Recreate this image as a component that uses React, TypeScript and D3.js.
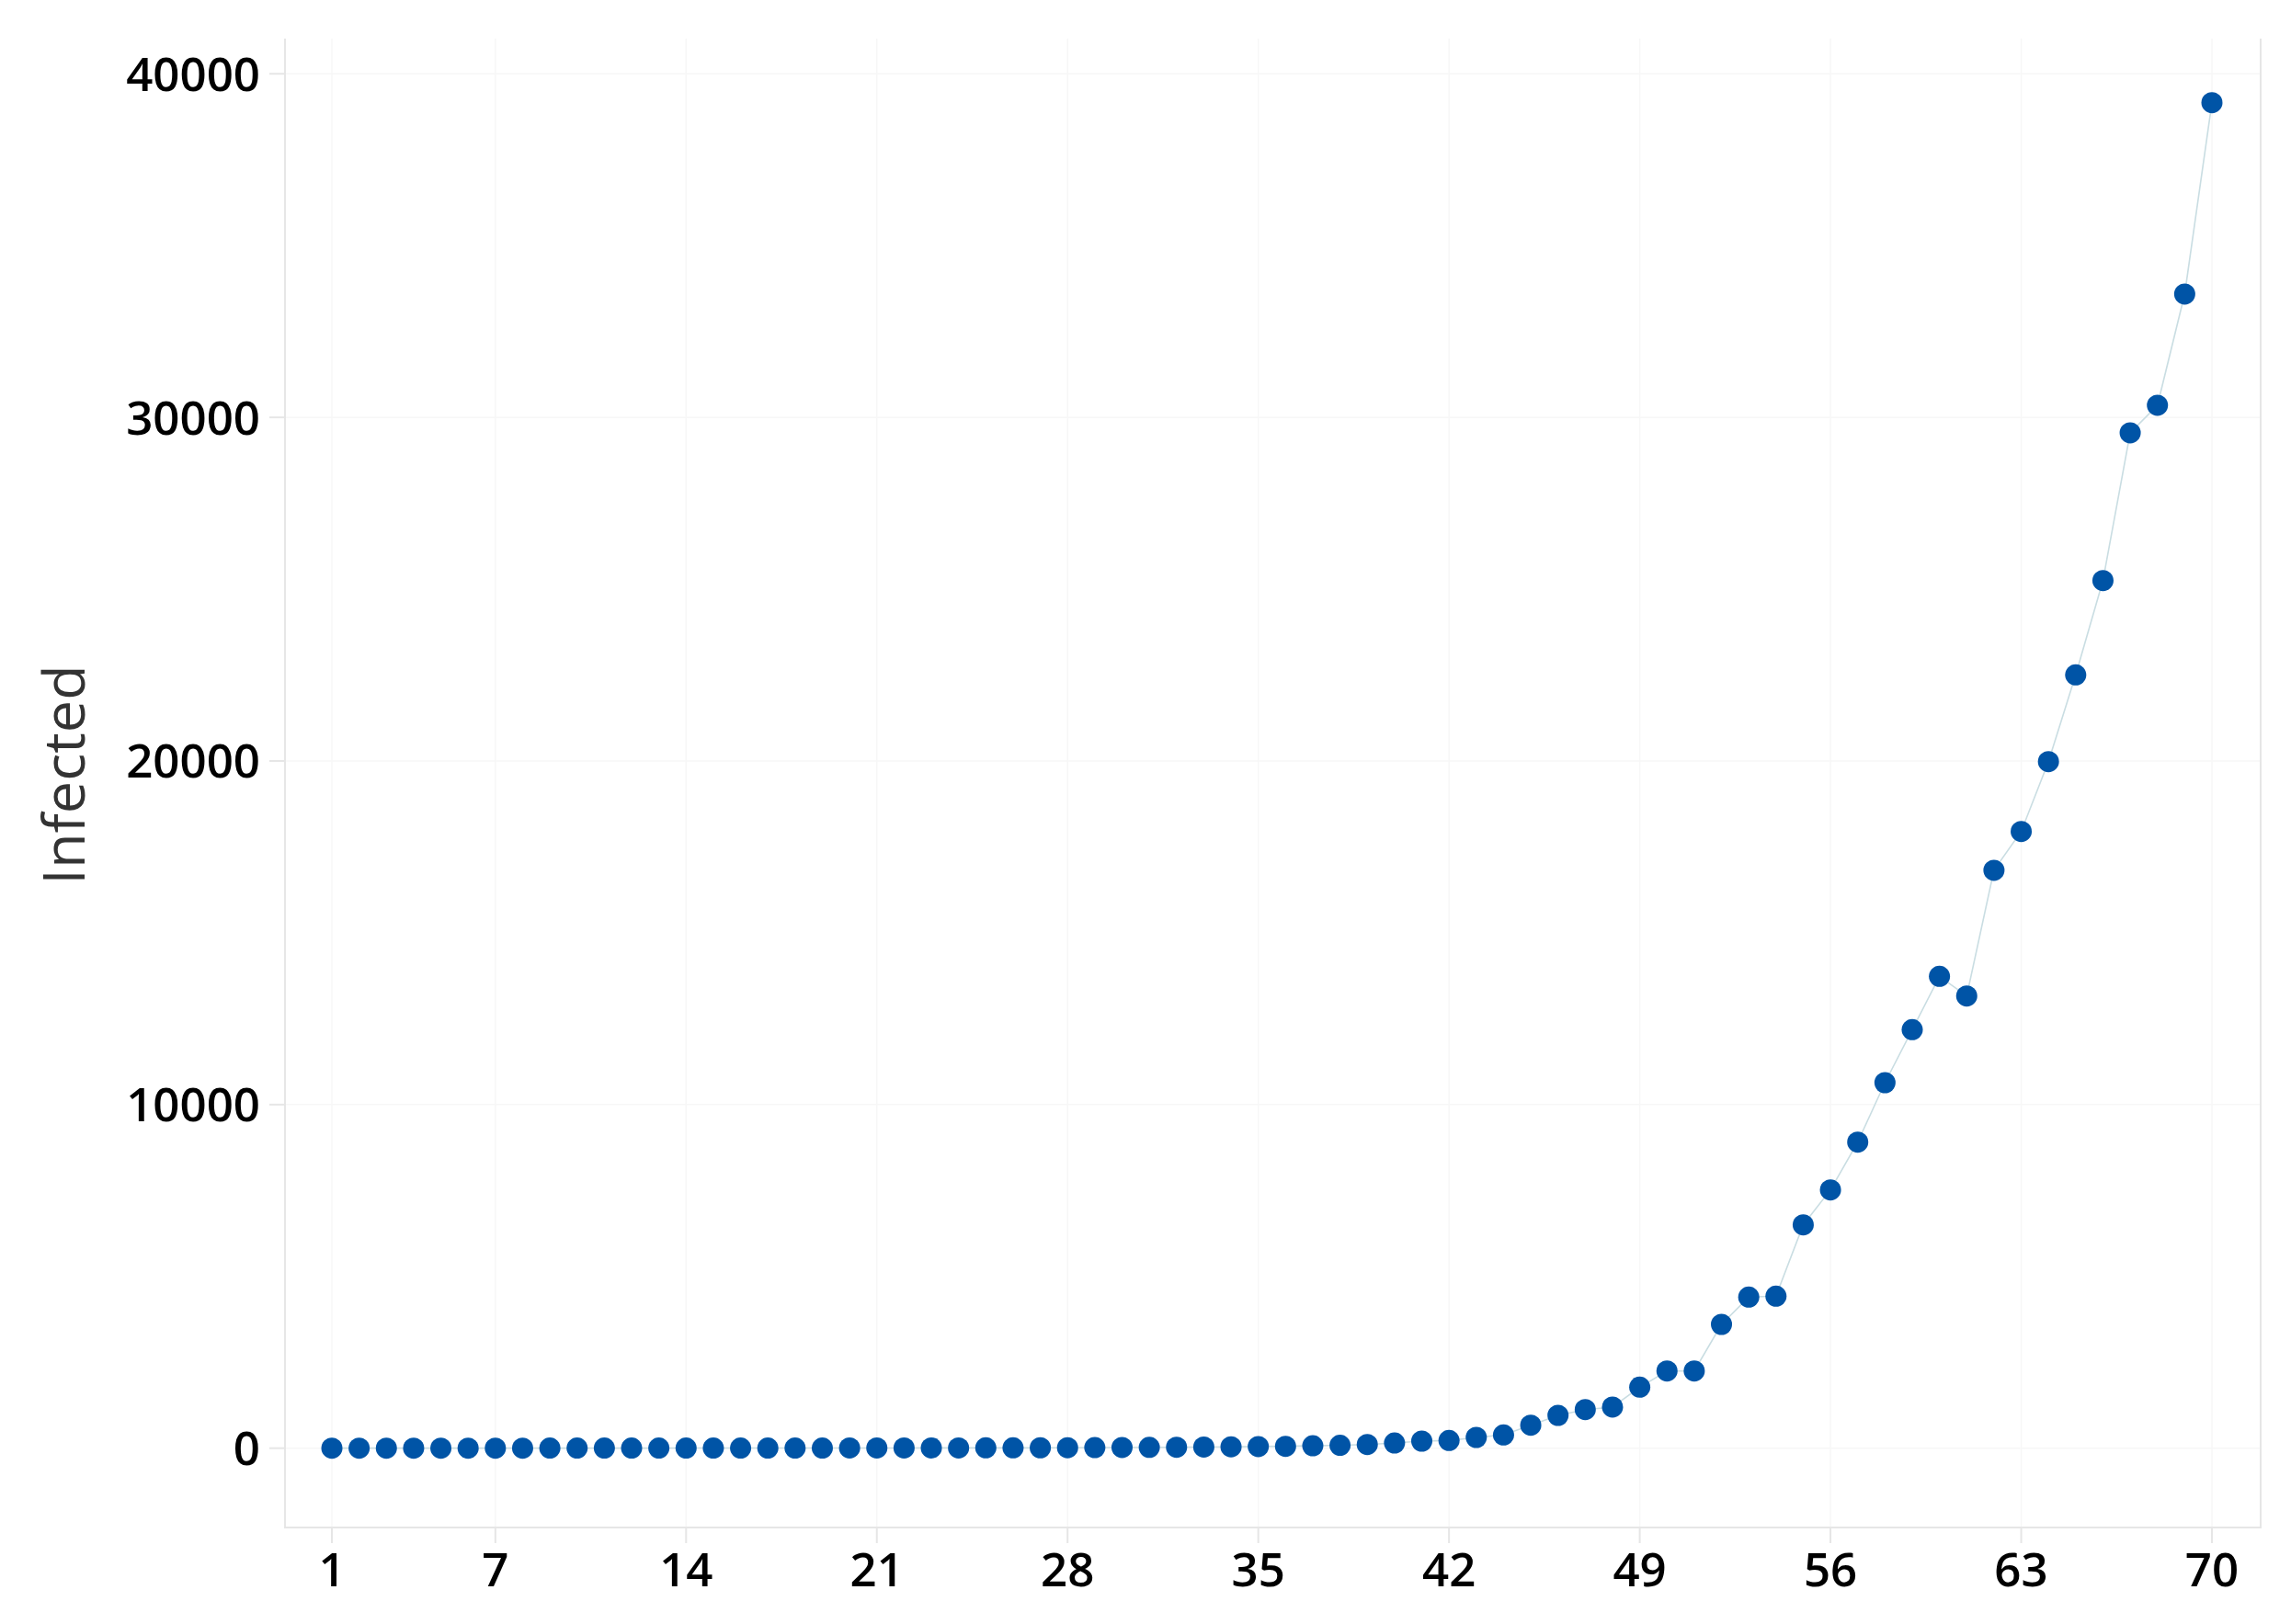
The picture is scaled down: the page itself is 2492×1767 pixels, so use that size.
import React from "react";
import * as d3 from "d3";

const days: number[] = Array.from({ length: 70 }, (_, i) => i + 1);
const infected: number[] = [
  1, 1, 1, 1, 2, 2, 2, 2, 3, 3,
  3, 3, 3, 4, 4, 4, 5, 5, 5, 6,
  6, 7, 8, 8, 9, 10, 12, 14, 17, 20,
  24, 28, 33, 40, 48, 55, 70, 85, 107, 152,
  206, 224, 313, 385, 670, 955, 1123, 1196, 1776, 2247,
  2247, 3603, 4397, 4424, 6500, 7517, 8907, 10638, 12181, 13732,
  13161, 16820, 17949, 19982, 22506, 25251, 29550, 30352, 33589, 39160,
];
const xTicks: number[] = [1, 7, 14, 21, 28, 35, 42, 49, 56, 63, 70];
const yTicks: number[] = [0, 10000, 20000, 30000, 40000];
const yTitle = "Infected";

const W = 2492;
const H = 1767;
const frame = { left: 310, right: 2459, top: 42, bottom: 1662 };
const FONT = "'Open Sans', 'Noto Sans', sans-serif";

export default function App() {
  const x = d3.scaleLinear().domain([1, 70]).range([361, 2406]);
  const y = d3.scaleLinear().domain([0, 40000]).range([1575.7, 80.3]);
  const line = d3
    .line<number>()
    .x((_, i) => x(days[i]))
    .y((d) => y(d));

  return (
    <svg
      width={W}
      height={H}
      style={{ position: "absolute", left: 0, top: 0, background: "#fff" }}
    >
      <rect x={0} y={0} width={W} height={H} fill="#fff" />
      {xTicks.map((t) => (
        <line
          key={"gx" + t}
          x1={x(t)}
          x2={x(t)}
          y1={frame.top}
          y2={frame.bottom}
          stroke="#f7f7f7"
          strokeWidth={1.5}
        />
      ))}
      {yTicks.map((t) => (
        <line
          key={"gy" + t}
          x1={frame.left}
          x2={frame.right}
          y1={y(t)}
          y2={y(t)}
          stroke="#f7f7f7"
          strokeWidth={1.5}
        />
      ))}
      <path
        d={`M${frame.left},${frame.top}V${frame.bottom}H${frame.right}V${frame.top}`}
        fill="none"
        stroke="#e6e6e6"
        strokeWidth={2}
      />
      {yTicks.map((t) => (
        <g key={"ty" + t}>
          <line
            x1={frame.left - 17}
            x2={frame.left}
            y1={y(t)}
            y2={y(t)}
            stroke="#e6e6e6"
            strokeWidth={2}
          />
          <text
            x={283}
            y={y(t)}
            dy="0.36em"
            textAnchor="end"
            fontFamily={FONT}
            fontSize={51}
            fontWeight={600}
            fill="#000"
          >
            {t}
          </text>
        </g>
      ))}
      {xTicks.map((t) => (
        <g key={"tx" + t}>
          <line
            x1={x(t)}
            x2={x(t)}
            y1={frame.bottom}
            y2={frame.bottom + 17}
            stroke="#e6e6e6"
            strokeWidth={2}
          />
          <text
            x={x(t)}
            y={1726}
            textAnchor="middle"
            fontFamily={FONT}
            fontSize={51}
            fontWeight={600}
            fill="#000"
          >
            {t}
          </text>
        </g>
      ))}
      <text
        transform={`translate(92, 843) rotate(-90)`}
        textAnchor="middle"
        fontFamily={FONT}
        fontSize={63}
        fill="#333"
      >
        {yTitle}
      </text>
      <path
        d={line(infected) || ""}
        fill="none"
        stroke="#c9dde2"
        strokeWidth={1.6}
      />
      {infected.map((v, i) => (
        <circle key={i} cx={x(days[i])} cy={y(v)} r={11.5} fill="#0054a6" />
      ))}
    </svg>
  );
}
